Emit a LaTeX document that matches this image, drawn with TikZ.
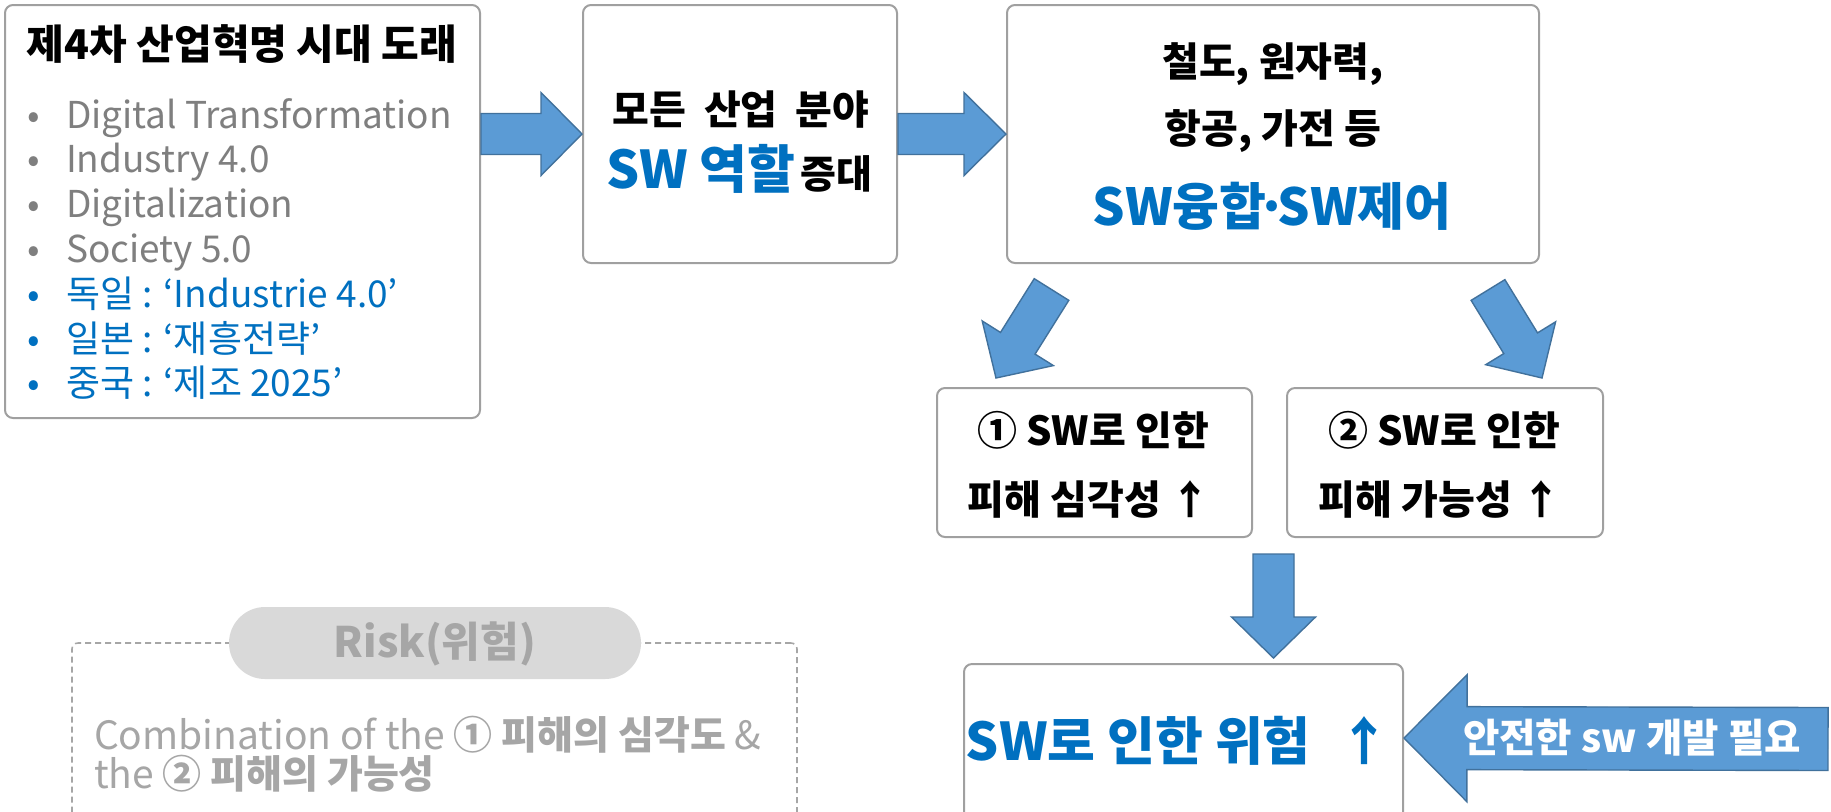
\documentclass[tikz,border=0pt]{standalone}
\usepackage{fontspec}
\setmainfont{Noto Sans CJK KR}
\usetikzlibrary{calc,fit}
\definecolor{arrowfill}{RGB}{91,155,213}
\definecolor{arrowline}{RGB}{65,113,156}
\definecolor{boxline}{RGB}{160,160,160}
\definecolor{txtgray}{RGB}{127,127,127}
\definecolor{lightgray}{RGB}{166,166,166}
\definecolor{pillfill}{RGB}{217,217,217}
\definecolor{hlblue}{RGB}{0,112,192}
\tikzset{
  box/.style={draw=boxline, line width=1pt, fill=white, rounded corners=4pt, inner sep=0pt},
  dbox/.style={draw=lightgray, line width=0.8pt, dash pattern=on 3pt off 2pt, rounded corners=3pt, inner sep=0pt},
  pill/.style={fill=pillfill, rounded corners=18pt, inner sep=0pt},
  txt/.style={inner sep=0pt, outer sep=0pt},
  barrow/.style={fill=arrowfill, draw=arrowline, line width=0.7pt, line join=miter},
  listfont/.style={font=\fontsize{18.5}{22}\selectfont},
  bfont/.style={font=\fontsize{20}{24}\selectfont\bfseries},
}
% #1 name, #2 tail, #3 tip, #4 shaft half, #5 head half, #6 head length
\newcommand\blockarrow[6]{%
  \coordinate (#1-base) at ($(#3)!#6!(#2)$);
  \draw[barrow] ($(#2)!#4!90:(#3)$) -- ($(#1-base)!#4!90:(#3)$) -- ($(#1-base)!#5!90:(#3)$) -- (#3)
     -- ($(#1-base)!#5!-90:(#3)$) -- ($(#1-base)!#4!-90:(#3)$) -- ($(#2)!#4!-90:(#3)$) -- cycle;
}
\newcommand\wsp{\hspace{0.45em}}
\begin{document}
\begin{tikzpicture}[x=0.5pt, y=-0.5pt]
\useasboundingbox (0,0) rectangle (1831,811);
\clip (0,0) rectangle (1831,811);
\fill[white] (0,0) rectangle (1831,811);

% boxes
\node[box, fit={(5,5) (480,418)}] (box1) {};
\node[box, fit={(583,5) (897,263)}] (box2) {};
\node[box, fit={(1007,5) (1539,263)}] (box3) {};
\node[box, fit={(937,388) (1252,537)}] (boxA) {};
\node[box, fit={(1287,388) (1603,537)}] (boxB) {};
\node[box, fit={(964,664) (1403,840)}] (boxC) {};
\node[dbox, fit={(72,643) (797,840)}] (riskbox) {};
\node[pill, fit={(229,607) (641,679)}] (pill) {};

% box1 text
\node[txt, anchor=base, font=\fontsize{20.5}{24}\selectfont\bfseries] (title) at (242,59) {제4차 산업혁명 시대 도래};
\foreach \i/\t/\c in {1/Digital Transformation/txtgray, 2/Industry 4.0/txtgray, 3/Digitalization/txtgray, 4/Society 5.0/txtgray, 5/독일 : ‘Industrie 4.0’/hlblue, 6/일본 : ‘재흥전략’/hlblue, 7/중국 : ‘제조 2025’/hlblue}{
  \node[txt, anchor=base, listfont, text=\c] (b\i) at (34, {128+44.8*(\i-1)}) {•};
  \node[txt, anchor=base west, listfont, text=\c] (l\i) at (66, {128+44.8*(\i-1)}) {\t};
}

% box2 text
\node[txt, anchor=base, font=\fontsize{20}{22}\selectfont\bfseries] (t2a) at (741,124) {모든\wsp 산업\wsp 분야};
\node[txt, anchor=base, font=\bfseries] (t2b) at (739,188) {{\color{hlblue}\fontsize{26}{30}\selectfont SW 역할} {\fontsize{19.5}{22}\selectfont 증대}};

% box3 text
\node[txt, anchor=base, bfont] (t3a) at (1273,76) {철도, 원자력,};
\node[txt, anchor=base, bfont] (t3b) at (1273,143) {항공, 가전 등};
\node[txt, anchor=base, font=\fontsize{25.5}{30}\selectfont\bfseries, text=hlblue] (t3c) at (1272,225) {SW융합\kern-0.2em·\kern-0.2em SW제어};

% box A/B text
\node[txt, anchor=base, bfont] (tAa) at (1093,445) {① SW로 인한};
\node[txt, anchor=base, bfont] (tAb) at (1089,514) {피해 심각성 ↑};
\node[txt, anchor=base, bfont] (tBa) at (1444,445) {② SW로 인한};
\node[txt, anchor=base, bfont] (tBb) at (1440,514) {피해 가능성 ↑};

% box C text
\node[txt, anchor=base, font=\fontsize{26}{30}\selectfont\bfseries, text=hlblue] (tC) at (1178,760) {SW로 인한 위험\hspace{0.3em} ↑};

% risk
\node[txt, anchor=base, font=\fontsize{21}{25}\selectfont\bfseries, text=lightgray] (risk) at (pill.center |- 0,657) {Risk(위험)};
\node[txt, anchor=north west, align=left, font=\fontsize{19.5}{17.5}\selectfont, text=lightgray] (comb) at (94,716) {Combination of the \textbf{① 피해의 심각도} \&\\the \textbf{② 피해의 가능성}};

% block arrows
\coordinate (a1tail) at (box1.east |- box2.west);
\blockarrow{a1}{a1tail}{box2.west}{10.25pt}{20.75pt}{20.5pt}
\blockarrow{a2}{box2.east}{box3.west}{10.25pt}{20.75pt}{21pt}
\coordinate (a3tail) at ($(box3.south west)+(45.5,25.5)$);
\coordinate (a3tip) at ($(boxA.north west)+(60,-9)$);
\blockarrow{a3}{a3tail}{a3tip}{10.2pt}{21pt}{20.5pt}
\coordinate (a4tail) at ($(box3.south east)+(-52,26)$);
\coordinate (a4tip) at ($(boxB.north east)+(-62,-9)$);
\blockarrow{a4}{a4tail}{a4tip}{9.9pt}{20.5pt}{20.4pt}
\coordinate (a5tail) at ($(boxA.south east)+(20.5,16)$);
\coordinate (a5tip) at ($(a5tail |- boxC.north)+(0,-5)$);
\blockarrow{a5}{a5tail}{a5tip}{10.25pt}{21pt}{20.5pt}
\coordinate (a6tail) at (1828,739);
\coordinate (a6tip) at ($(boxC.north east)+(0,75)$);
\blockarrow{a6}{a6tail}{a6tip}{15.75pt}{31.75pt}{31.5pt}
\node[txt, anchor=base, font=\fontsize{19.8}{22}\selectfont\bfseries, text=white] (a6text) at (1632,752) {안전한 sw 개발 필요};
\end{tikzpicture}
\end{document}
